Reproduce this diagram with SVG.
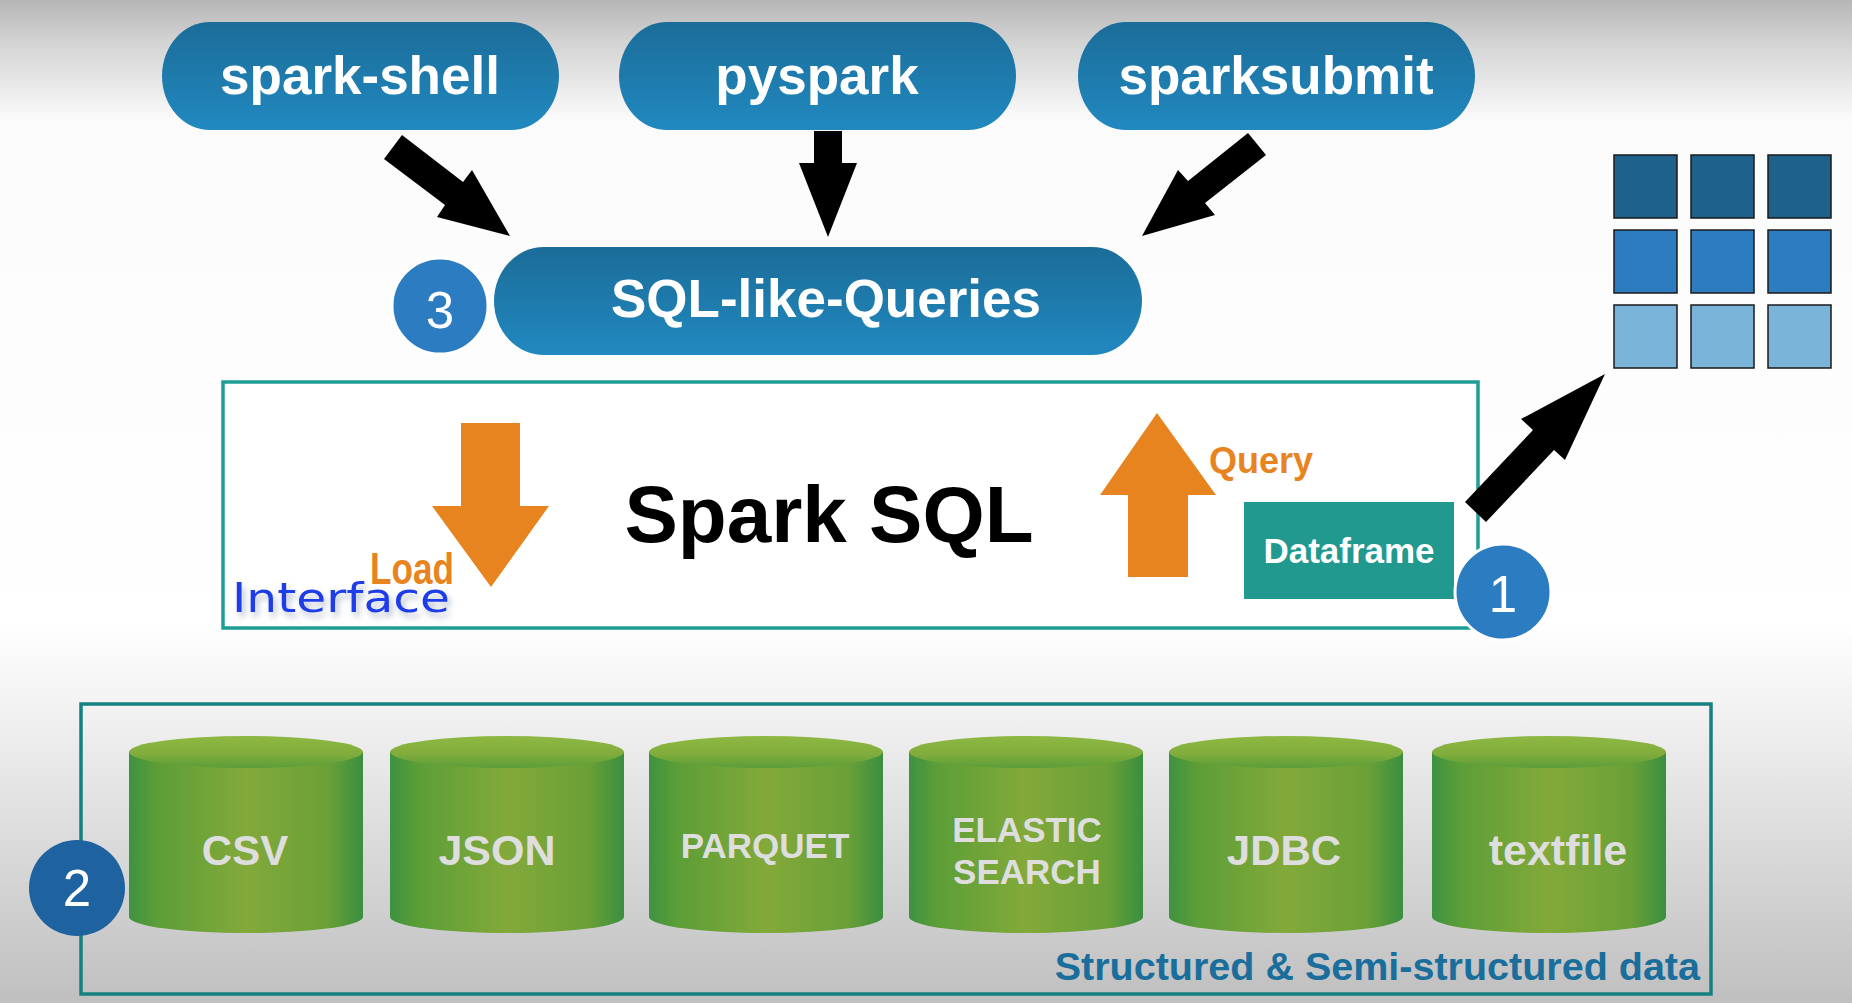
<svg xmlns="http://www.w3.org/2000/svg" width="1852" height="1003" viewBox="0 0 1852 1003">
<defs>
<linearGradient id="bg" x1="0" y1="0" x2="0" y2="1">
<stop offset="0" stop-color="#b6b6b6"/>
<stop offset="0.04" stop-color="#d2d2d2"/>
<stop offset="0.12" stop-color="#fbfbfb"/>
<stop offset="0.62" stop-color="#ffffff"/>
<stop offset="0.70" stop-color="#f3f3f3"/>
<stop offset="1" stop-color="#bfbfbf"/>
</linearGradient>
<linearGradient id="pill" x1="0" y1="0" x2="0" y2="1">
<stop offset="0" stop-color="#1b6c98"/>
<stop offset="1" stop-color="#2189c0"/>
</linearGradient>
<linearGradient id="cylBody" x1="0" y1="0" x2="1" y2="0">
<stop offset="0" stop-color="#3e9241"/>
<stop offset="0.12" stop-color="#5c9e37"/>
<stop offset="0.5" stop-color="#83a93a"/>
<stop offset="0.85" stop-color="#6aa037"/>
<stop offset="1" stop-color="#3a8f3f"/>
</linearGradient>
<linearGradient id="cylTop" x1="0" y1="0" x2="0" y2="1">
<stop offset="0" stop-color="#8db842"/>
<stop offset="0.55" stop-color="#82ad3c"/>
<stop offset="1" stop-color="#5a9d3a"/>
</linearGradient>
<filter id="sh" x="-10%" y="-30%" width="130%" height="180%">
<feDropShadow dx="3" dy="5" stdDeviation="3" flood-color="#7f8fa8" flood-opacity="0.55"/>
</filter>
<g id="cyl">
<path d="M0 752 V917 A117 16 0 0 0 234 917 V752 Z" fill="url(#cylBody)"/>
<ellipse cx="117" cy="752" rx="117" ry="16" fill="url(#cylTop)"/>
</g>
</defs>
<style>
text{font-family:"Liberation Sans",Arial,Helvetica,sans-serif}
.pill{fill:url(#pill)}
.pt{fill:#ffffff;font-weight:bold;font-size:53px;text-anchor:middle}
.badge{fill:#2b7cc1;stroke:#ffffff;stroke-width:3}
.bt{fill:#ffffff;font-size:51px;text-anchor:middle}
.blk{fill:#000000}
.org{fill:#e8841f}
.ct{fill:#dedede;font-weight:bold;text-anchor:middle}
.sq{stroke:#1a1a1a;stroke-width:1.5}
</style>
<rect x="0" y="0" width="1852" height="1003" fill="url(#bg)"/>

<g id="spark-sql">
<rect x="223" y="382" width="1255" height="246" fill="#ffffff" stroke="#1e9d96" stroke-width="3.5"/>
<text x="829" y="542" font-size="80" font-weight="bold" text-anchor="middle" fill="#000000">Spark SQL</text>
<text x="232" y="612" font-size="41" fill="#1e3ee8" textLength="218" lengthAdjust="spacingAndGlyphs" filter="url(#sh)" style="font-family:'Comic Sans MS','DejaVu Sans',sans-serif">Interface</text>
</g>

<g id="data-sources">
<rect x="81" y="704" width="1630" height="290" fill="none" stroke="#15807f" stroke-width="3.5"/>
<text x="1700" y="980" font-size="39.5" font-weight="bold" text-anchor="end" fill="#1a6e9c">Structured &amp; Semi-structured data</text>
</g>

<g id="csv"><use href="#cyl" x="129"/><text class="ct" x="245" y="865" font-size="42">CSV</text></g>
<g id="json"><use href="#cyl" x="390"/><text class="ct" x="497" y="865" font-size="43">JSON</text></g>
<g id="parquet"><use href="#cyl" x="649"/><text class="ct" x="765" y="858" font-size="35">PARQUET</text></g>
<g id="elasticsearch"><use href="#cyl" x="909"/><text class="ct" x="1027" y="842" font-size="35">ELASTIC</text><text class="ct" x="1027" y="884" font-size="35">SEARCH</text></g>
<g id="jdbc"><use href="#cyl" x="1169"/><text class="ct" x="1284" y="865" font-size="42">JDBC</text></g>
<g id="textfile"><use href="#cyl" x="1432"/><text class="ct" x="1558" y="865" font-size="43">textfile</text></g>

<g id="spark-shell"><rect class="pill" x="162" y="22" width="397" height="108" rx="48" ry="54"/><text class="pt" x="360" y="94">spark-shell</text></g>
<g id="pyspark"><rect class="pill" x="619" y="22" width="397" height="108" rx="48" ry="54"/><text class="pt" x="817" y="94">pyspark</text></g>
<g id="sparksubmit"><rect class="pill" x="1078" y="22" width="397" height="108" rx="48" ry="54"/><text class="pt" x="1276" y="94">sparksubmit</text></g>
<g id="sql-like-queries"><rect class="pill" x="494" y="247" width="648" height="108" rx="50" ry="54"/><text class="pt" x="826" y="317" font-size="52">SQL-like-Queries</text></g>

<g id="badge-3"><circle class="badge" cx="440" cy="306" r="48"/><text class="bt" x="440" y="328">3</text></g>

<g id="dataframe"><rect x="1244" y="502" width="210" height="97" fill="#21998f"/><text x="1349" y="563" font-size="35" font-weight="bold" fill="#ffffff" text-anchor="middle">Dataframe</text></g>

<g id="badge-1"><circle class="badge" cx="1503" cy="592" r="48"/><text class="bt" x="1503" y="612">1</text></g>

<g id="badge-2"><circle cx="77" cy="888" r="48" fill="#1e62a0"/><text class="bt" x="77" y="906">2</text></g>

<g id="result-grid">
<rect class="sq" x="1614" y="155" width="63" height="63" fill="#1e628c"/>
<rect class="sq" x="1691" y="155" width="63" height="63" fill="#1e628c"/>
<rect class="sq" x="1768" y="155" width="63" height="63" fill="#1e628c"/>
<rect class="sq" x="1614" y="230" width="63" height="63" fill="#2e7cc0"/>
<rect class="sq" x="1691" y="230" width="63" height="63" fill="#2e7cc0"/>
<rect class="sq" x="1768" y="230" width="63" height="63" fill="#2e7cc0"/>
<rect class="sq" x="1614" y="305" width="63" height="63" fill="#7ab4d8"/>
<rect class="sq" x="1691" y="305" width="63" height="63" fill="#7ab4d8"/>
<rect class="sq" x="1768" y="305" width="63" height="63" fill="#7ab4d8"/>
</g>

<g id="connectors">
<polygon class="blk" points="402,135 463,182 472,170 510,236 437,217 445,205 384,159"/>
<polygon class="blk" points="814,131 842,131 842,163 857,163 828,237 799,163 814,163"/>
<polygon class="blk" points="1248,133 1188,181 1178,170 1142,236 1215,215 1205,203 1266,155"/>
<polygon class="blk" points="1465,502 1533,430 1521,419 1605,374 1565,460 1554,450 1486,522"/>
<polygon class="org" points="461,423 520,423 520,506 549,506 491,587 432,506 461,506"/>
<polygon class="org" points="1128,577 1188,577 1188,495 1216,495 1157,413 1100,495 1128,495"/>
<text x="370" y="584" font-size="44" font-weight="bold" fill="#e8841f" textLength="84" lengthAdjust="spacingAndGlyphs">Load</text>
<text x="1209" y="473" font-size="36" font-weight="bold" fill="#e8841f">Query</text>
</g>
</svg>
